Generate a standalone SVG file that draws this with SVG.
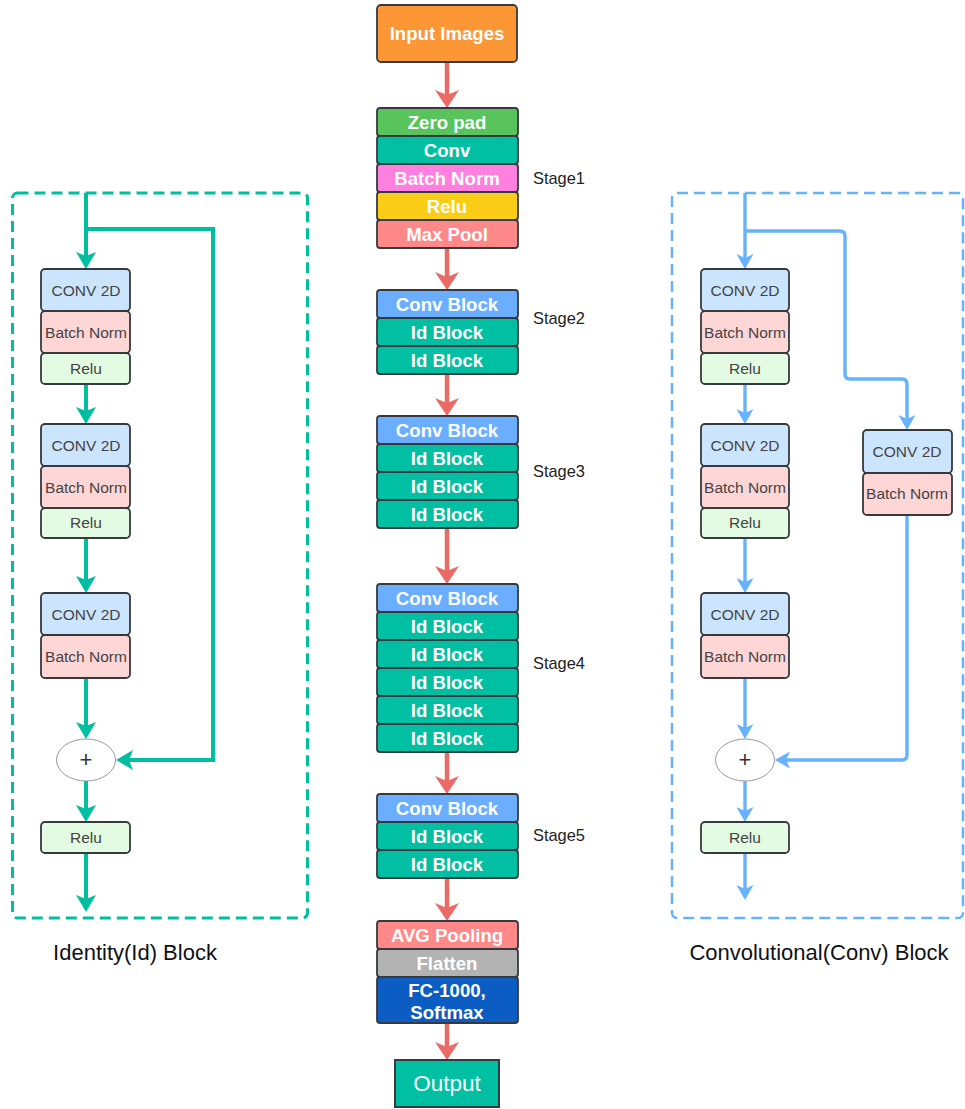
<svg xmlns="http://www.w3.org/2000/svg" width="965" height="1109" viewBox="0 0 965 1109">
  <style>
    .blk { stroke: #36393d; stroke-width: 1.8; }
    .bt { font-family: "Liberation Sans", Arial, sans-serif; font-weight: bold; font-size: 18.6px; fill: #ffffff; text-anchor: middle; }
    .lt { font-family: "Liberation Sans", Arial, sans-serif; font-size: 15.5px; fill: #444444; text-anchor: middle; }
    .stage { font-family: "Liberation Sans", Arial, sans-serif; font-size: 16.4px; fill: #222222; }
    .cap { font-family: "Liberation Sans", Arial, sans-serif; font-size: 22px; fill: #111111; text-anchor: middle; }
    .conv2d { fill: #cce5ff; }
    .bn { fill: #ffd6d6; }
    .relu { fill: #e3fbe3; }
    .red { stroke: #ea6b66; stroke-width: 4.5; fill: none; marker-end: url(#ahRed); }
    .teal { stroke: #00bfa0; stroke-width: 4; fill: none; marker-end: url(#ahTeal); }
    .blue { stroke: #66b2ff; stroke-width: 3.4; fill: none; marker-end: url(#ahBlue); }
  </style>
  <defs>
    <marker id="ahRed" markerUnits="userSpaceOnUse" viewBox="0 0 18 24" refX="9" refY="12" markerWidth="18" markerHeight="24" orient="auto">
      <path d="M0,0 L18,12 L0,24 L5,12 Z" fill="#ea6b66"/>
    </marker>
    <marker id="ahTeal" markerUnits="userSpaceOnUse" viewBox="0 0 17 20" refX="8" refY="10" markerWidth="17" markerHeight="20" orient="auto">
      <path d="M0,0 L17,10 L0,20 L4,10 Z" fill="#00bfa0"/>
    </marker>
    <marker id="ahBlue" markerUnits="userSpaceOnUse" viewBox="0 0 15 17" refX="7" refY="8.5" markerWidth="15" markerHeight="17" orient="auto">
      <path d="M0,0 L15,8.5 L0,17 L4,8.5 Z" fill="#66b2ff"/>
    </marker>
  </defs>

  <rect width="965" height="1109" fill="#ffffff"/>

  <!-- dashed frames of the two block types -->
  <g id="identity-frame">
    <rect x="12.5" y="193" width="295" height="725" rx="5" fill="none" stroke="#00bfa0" stroke-width="3" stroke-dasharray="11 6"/>
    <text class="cap" x="135" y="960">Identity(Id) Block</text>
  </g>
  <g id="conv-frame">
    <rect x="672" y="193" width="291" height="725" rx="5" fill="none" stroke="#66b2ff" stroke-width="2.5" stroke-dasharray="11 6"/>
    <text class="cap" x="819" y="960">Convolutional(Conv) Block</text>
  </g>

  <!-- connectors -->
  <g id="connectors">
    <!-- main pipeline -->
    <line class="red" x1="447" y1="62" x2="447" y2="99"/>
    <line class="red" x1="447" y1="248" x2="447" y2="281"/>
    <line class="red" x1="447" y1="374" x2="447" y2="407"/>
    <line class="red" x1="447" y1="528" x2="447" y2="575"/>
    <line class="red" x1="447" y1="752" x2="447" y2="785"/>
    <line class="red" x1="447" y1="878" x2="447" y2="912"/>
    <line class="red" x1="447" y1="1023" x2="447" y2="1051"/>

    <!-- identity block -->
    <line class="teal" x1="86" y1="193" x2="86" y2="260"/>
    <line class="teal" x1="86" y1="384" x2="86" y2="415"/>
    <line class="teal" x1="86" y1="538" x2="86" y2="584"/>
    <line class="teal" x1="86" y1="678" x2="86" y2="730"/>
    <line class="teal" x1="86" y1="781" x2="86" y2="813"/>
    <line class="teal" x1="86" y1="853" x2="86" y2="903"/>
    <path class="teal" d="M84,229 H213 V760 H125"/>

    <!-- convolutional block -->
    <line class="blue" x1="745" y1="193" x2="745" y2="261"/>
    <line class="blue" x1="745" y1="384" x2="745" y2="416"/>
    <line class="blue" x1="745" y1="538" x2="745" y2="585"/>
    <line class="blue" x1="745" y1="678" x2="745" y2="731"/>
    <line class="blue" x1="745" y1="781" x2="745" y2="814"/>
    <line class="blue" x1="745" y1="853" x2="745" y2="892"/>
    <path class="blue" d="M745,231 H840 Q845,231 845,236 V374 Q845,379 850,379 H902 Q907,379 907,384 V422"/>
    <path class="blue" d="M907,515 V755 Q907,760 902,760 H783"/>
  </g>

  <!-- main pipeline nodes -->
  <g id="input-images">
    <rect class="blk" x="377" y="5" width="140" height="57" rx="4" fill="#fd9635"/>
    <text class="bt" x="447" y="40">Input Images</text>
  </g>

  <g id="stage1">
    <rect class="blk" x="377" y="108" width="141" height="28" rx="3" fill="#58c45b"/>
    <text class="bt" x="447" y="128.5">Zero pad</text>
    <rect class="blk" x="377" y="136" width="141" height="28" rx="3" fill="#00bfa2"/>
    <text class="bt" x="447" y="156.5">Conv</text>
    <rect class="blk" x="377" y="164" width="141" height="28" rx="3" fill="#ff80df"/>
    <text class="bt" x="447" y="184.5">Batch Norm</text>
    <rect class="blk" x="377" y="192" width="141" height="28" rx="3" fill="#fccd16"/>
    <text class="bt" x="447" y="212.5">Relu</text>
    <rect class="blk" x="377" y="220" width="141" height="28" rx="3" fill="#ff8888"/>
    <text class="bt" x="447" y="240.5">Max Pool</text>
    <text class="stage" x="533" y="184">Stage1</text>
  </g>

  <g id="stage2">
    <rect class="blk" x="377" y="290" width="141" height="28" rx="3" fill="#6baeff"/>
    <text class="bt" x="447" y="310.5">Conv Block</text>
    <rect class="blk" x="377" y="318" width="141" height="28" rx="3" fill="#00bfa2"/>
    <text class="bt" x="447" y="338.5">Id Block</text>
    <rect class="blk" x="377" y="346" width="141" height="28" rx="3" fill="#00bfa2"/>
    <text class="bt" x="447" y="366.5">Id Block</text>
    <text class="stage" x="533" y="324">Stage2</text>
  </g>

  <g id="stage3">
    <rect class="blk" x="377" y="416" width="141" height="28" rx="3" fill="#6baeff"/>
    <text class="bt" x="447" y="436.5">Conv Block</text>
    <rect class="blk" x="377" y="444" width="141" height="28" rx="3" fill="#00bfa2"/>
    <text class="bt" x="447" y="464.5">Id Block</text>
    <rect class="blk" x="377" y="472" width="141" height="28" rx="3" fill="#00bfa2"/>
    <text class="bt" x="447" y="492.5">Id Block</text>
    <rect class="blk" x="377" y="500" width="141" height="28" rx="3" fill="#00bfa2"/>
    <text class="bt" x="447" y="520.5">Id Block</text>
    <text class="stage" x="533" y="477">Stage3</text>
  </g>

  <g id="stage4">
    <rect class="blk" x="377" y="584" width="141" height="28" rx="3" fill="#6baeff"/>
    <text class="bt" x="447" y="604.5">Conv Block</text>
    <rect class="blk" x="377" y="612" width="141" height="28" rx="3" fill="#00bfa2"/>
    <text class="bt" x="447" y="632.5">Id Block</text>
    <rect class="blk" x="377" y="640" width="141" height="28" rx="3" fill="#00bfa2"/>
    <text class="bt" x="447" y="660.5">Id Block</text>
    <rect class="blk" x="377" y="668" width="141" height="28" rx="3" fill="#00bfa2"/>
    <text class="bt" x="447" y="688.5">Id Block</text>
    <rect class="blk" x="377" y="696" width="141" height="28" rx="3" fill="#00bfa2"/>
    <text class="bt" x="447" y="716.5">Id Block</text>
    <rect class="blk" x="377" y="724" width="141" height="28" rx="3" fill="#00bfa2"/>
    <text class="bt" x="447" y="744.5">Id Block</text>
    <text class="stage" x="533" y="669">Stage4</text>
  </g>

  <g id="stage5">
    <rect class="blk" x="377" y="794" width="141" height="28" rx="3" fill="#6baeff"/>
    <text class="bt" x="447" y="814.5">Conv Block</text>
    <rect class="blk" x="377" y="822" width="141" height="28" rx="3" fill="#00bfa2"/>
    <text class="bt" x="447" y="842.5">Id Block</text>
    <rect class="blk" x="377" y="850" width="141" height="28" rx="3" fill="#00bfa2"/>
    <text class="bt" x="447" y="870.5">Id Block</text>
    <text class="stage" x="533" y="841">Stage5</text>
  </g>

  <g id="head">
    <rect class="blk" x="377" y="921" width="141" height="28" rx="3" fill="#ff8888"/>
    <text class="bt" x="447" y="941.5">AVG Pooling</text>
    <rect class="blk" x="377" y="949" width="141" height="28" rx="3" fill="#b3b3b3"/>
    <text class="bt" x="447" y="969.5">Flatten</text>
    <rect class="blk" x="377" y="977" width="141" height="46" rx="3" fill="#0b5dc3"/>
    <text class="bt" x="447" y="997">FC-1000,</text>
    <text class="bt" x="447" y="1019">Softmax</text>
  </g>

  <g id="output">
    <rect x="395" y="1060" width="104" height="47" fill="#00bfa2" stroke="#36393d" stroke-width="2"/>
    <text x="447" y="1091" font-family="Liberation Sans, Arial, sans-serif" font-size="22.5" fill="#ffffff" text-anchor="middle">Output</text>
  </g>

  <!-- identity block internals -->
  <g id="id-unit1">
    <rect class="blk conv2d" x="41" y="269" width="89" height="42" rx="4"/>
    <text class="lt" x="86" y="296">CONV 2D</text>
    <rect class="blk bn" x="41" y="311" width="89" height="42" rx="4"/>
    <text class="lt" x="86" y="338">Batch Norm</text>
    <rect class="blk relu" x="41" y="353" width="89" height="31" rx="4"/>
    <text class="lt" x="86" y="374">Relu</text>
  </g>
  <g id="id-unit2">
    <rect class="blk conv2d" x="41" y="424" width="89" height="42" rx="4"/>
    <text class="lt" x="86" y="451">CONV 2D</text>
    <rect class="blk bn" x="41" y="466" width="89" height="42" rx="4"/>
    <text class="lt" x="86" y="493">Batch Norm</text>
    <rect class="blk relu" x="41" y="508" width="89" height="30" rx="4"/>
    <text class="lt" x="86" y="528">Relu</text>
  </g>
  <g id="id-unit3">
    <rect class="blk conv2d" x="41" y="593" width="89" height="42" rx="4"/>
    <text class="lt" x="86" y="620">CONV 2D</text>
    <rect class="blk bn" x="41" y="635" width="89" height="43" rx="4"/>
    <text class="lt" x="86" y="662">Batch Norm</text>
  </g>
  <g id="id-add">
    <ellipse cx="86" cy="760" rx="29.5" ry="21" fill="#ffffff" stroke="#999999" stroke-width="1"/>
    <text x="86" y="767" font-family="Liberation Sans, Arial, sans-serif" font-size="22" fill="#333333" text-anchor="middle">+</text>
  </g>
  <g id="id-relu-out">
    <rect class="blk relu" x="41" y="822" width="89" height="31" rx="4"/>
    <text class="lt" x="86" y="843">Relu</text>
  </g>

  <!-- convolutional block internals -->
  <g id="conv-unit1">
    <rect class="blk conv2d" x="701" y="269" width="88" height="42" rx="4"/>
    <text class="lt" x="745" y="296">CONV 2D</text>
    <rect class="blk bn" x="701" y="311" width="88" height="42" rx="4"/>
    <text class="lt" x="745" y="338">Batch Norm</text>
    <rect class="blk relu" x="701" y="353" width="88" height="31" rx="4"/>
    <text class="lt" x="745" y="374">Relu</text>
  </g>
  <g id="conv-unit2">
    <rect class="blk conv2d" x="701" y="424" width="88" height="42" rx="4"/>
    <text class="lt" x="745" y="451">CONV 2D</text>
    <rect class="blk bn" x="701" y="466" width="88" height="42" rx="4"/>
    <text class="lt" x="745" y="493">Batch Norm</text>
    <rect class="blk relu" x="701" y="508" width="88" height="30" rx="4"/>
    <text class="lt" x="745" y="528">Relu</text>
  </g>
  <g id="conv-unit3">
    <rect class="blk conv2d" x="701" y="593" width="88" height="42" rx="4"/>
    <text class="lt" x="745" y="620">CONV 2D</text>
    <rect class="blk bn" x="701" y="635" width="88" height="43" rx="4"/>
    <text class="lt" x="745" y="662">Batch Norm</text>
  </g>
  <g id="conv-shortcut">
    <rect class="blk conv2d" x="863" y="430" width="89" height="43" rx="4"/>
    <text class="lt" x="907" y="457">CONV 2D</text>
    <rect class="blk bn" x="863" y="473" width="89" height="42" rx="4"/>
    <text class="lt" x="907" y="499">Batch Norm</text>
  </g>
  <g id="conv-add">
    <ellipse cx="745" cy="760" rx="29.5" ry="21" fill="#ffffff" stroke="#999999" stroke-width="1"/>
    <text x="745" y="767" font-family="Liberation Sans, Arial, sans-serif" font-size="22" fill="#333333" text-anchor="middle">+</text>
  </g>
  <g id="conv-relu-out">
    <rect class="blk relu" x="701" y="822" width="88" height="31" rx="4"/>
    <text class="lt" x="745" y="843">Relu</text>
  </g>
</svg>
